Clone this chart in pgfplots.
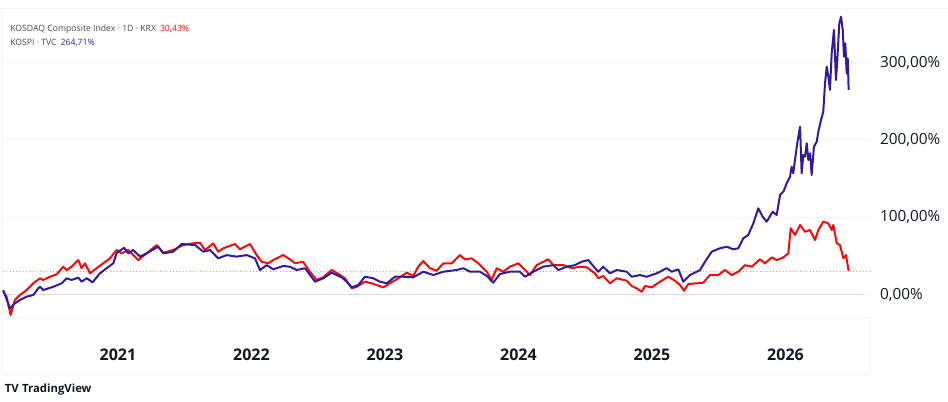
\documentclass[border=0pt]{standalone}
\usepackage{pgfplots}
\pgfplotsset{compat=1.18}
\usepackage{pgfplotstable}
\usepackage{fontspec}
\setmainfont{Open Sans}
\definecolor{kred}{RGB}{245,10,10}
\definecolor{kblue}{RGB}{48,28,150}
\definecolor{txt}{RGB}{19,23,34}
\definecolor{legtxt}{RGB}{70,72,80}
\definecolor{gridc}{RGB}{240,242,246}
\definecolor{zeroc}{RGB}{215,217,222}

\pgfplotstableread{
x y
2020.141 3.6
2020.166 -2.8
2020.196 -26.5
2020.228 -7
2020.266 -0.6
2020.316 5.8
2020.366 14.5
2020.416 21
2020.440 18.8
2020.491 23
2020.541 26.1
2020.590 36
2020.616 31.7
2020.653 36
2020.703 44.6
2020.728 34
2020.753 40.4
2020.790 27.4
2020.840 34
2020.890 40.4
2020.940 46.8
2020.990 57.6
2021.028 53.3
2021.077 57.6
2021.152 44.6
2021.215 53.3
2021.290 64
2021.339 54
2021.414 57.6
2021.489 64
2021.552 66
2021.614 67
2021.652 57.6
2021.714 66
2021.751 55.4
2021.789 59.8
2021.876 65.3
2021.914 58.5
2021.989 65.3
2022.039 51
2022.076 42.4
2022.126 40.4
2022.163 44.6
2022.238 51
2022.288 45.5
2022.326 40.4
2022.386 42.4
2022.438 29.5
2022.488 18.8
2022.536 22.2
2022.601 31.7
2022.663 25.2
2022.700 21
2022.751 8
2022.788 10
2022.850 16.6
2022.900 14.5
2022.987 9.3
2023.037 14.5
2023.100 21
2023.163 28.2
2023.212 24
2023.249 36
2023.287 43.3
2023.337 34
2023.387 30.8
2023.437 40.4
2023.500 40.4
2023.562 51
2023.599 45.5
2023.649 46.8
2023.699 40.4
2023.762 29.5
2023.799 18.8
2023.837 34
2023.886 29.5
2023.936 36
2023.999 40.4
2024.036 34
2024.086 25.2
2024.136 38
2024.223 45.5
2024.261 38
2024.336 38
2024.399 34
2024.461 36
2024.511 35.2
2024.573 27.4
2024.598 21
2024.635 24
2024.685 14.5
2024.736 21
2024.810 17.9
2024.848 11
2024.885 8
2024.923 3.6
2024.948 11
2024.998 9.3
2025.060 16.6
2025.122 23
2025.172 17.9
2025.210 12.3
2025.240 4.9
2025.272 13.6
2025.335 14.5
2025.384 15.3
2025.434 25.2
2025.497 25.2
2025.547 31.7
2025.597 25.2
2025.646 29.5
2025.697 38
2025.747 36
2025.809 45.5
2025.846 40.4
2025.897 48
2025.934 44.6
2025.984 48
2026.021 53.3
2026.039 85.6
2026.071 77
2026.109 90
2026.146 81.2
2026.184 83.4
2026.221 70.5
2026.246 83.4
2026.283 94.2
2026.321 92
2026.346 83.4
2026.358 90
2026.384 66.2
2026.408 64
2026.433 46.8
2026.453 51
2026.473 30.43
}\kosdaq

\pgfplotstableread{
x y
2020.141 5.8
2020.191 -18
2020.228 -11.4
2020.266 -7
2020.316 -2.8
2020.366 -0.6
2020.403 8
2020.416 10
2020.440 5.8
2020.515 10
2020.578 14.5
2020.616 21
2020.653 18.8
2020.703 21.8
2020.728 16.6
2020.766 21
2020.810 15.8
2020.865 27.4
2020.915 34
2020.965 40.4
2020.990 53.3
2021.045 60.5
2021.077 53.3
2021.115 57.6
2021.165 49
2021.215 53.3
2021.302 62
2021.339 53.3
2021.414 55.4
2021.477 65.3
2021.577 64
2021.639 55.4
2021.689 57.6
2021.751 46.8
2021.814 51
2021.889 49
2021.964 51
2022.026 46.8
2022.064 31.7
2022.114 38
2022.163 32.6
2022.238 36.9
2022.288 36
2022.339 31.7
2022.401 34
2022.476 16.6
2022.538 21
2022.601 28.2
2022.676 22.2
2022.713 16.6
2022.751 9.3
2022.800 12.3
2022.850 23
2022.912 21
2022.963 16.6
2023.013 14.5
2023.075 23
2023.137 23
2023.212 22.2
2023.287 29.5
2023.362 25.2
2023.437 29.5
2023.537 31.7
2023.587 34
2023.637 29.5
2023.712 29.5
2023.762 24
2023.811 15.3
2023.861 26.5
2023.936 29.5
2024.011 29.5
2024.049 23
2024.111 29.5
2024.186 36
2024.261 38
2024.298 31.7
2024.361 36
2024.423 38
2024.473 42.4
2024.523 44.6
2024.560 36.9
2024.598 29.5
2024.635 36
2024.685 27.4
2024.736 31.7
2024.810 29.5
2024.848 23
2024.910 25.2
2024.960 23
2025.035 27.4
2025.110 34
2025.148 29.5
2025.197 32.6
2025.234 16.6
2025.285 25.2
2025.360 31.7
2025.397 42.4
2025.447 55.4
2025.509 59.8
2025.560 61.8
2025.609 58.5
2025.646 59.8
2025.684 72.7
2025.721 77
2025.759 92
2025.796 111.5
2025.829 100.6
2025.859 94.2
2025.904 107.1
2025.934 102.8
2025.959 128.7
2025.984 133
2026.009 143.9
2026.034 152.4
2026.046 165.3
2026.058 156.8
2026.071 174
2026.088 195.6
2026.109 217
2026.121 156.8
2026.133 180.5
2026.146 178.3
2026.159 195.6
2026.171 174
2026.184 182.7
2026.196 154.6
2026.213 191.2
2026.234 197.7
2026.246 210.6
2026.266 225.7
2026.283 236.5
2026.296 273.2
2026.309 294.7
2026.321 281.8
2026.333 264.6
2026.346 312
2026.363 342.2
2026.378 277.5
2026.388 303.4
2026.403 350.8
2026.416 359.4
2026.429 342.2
2026.438 307.6
2026.448 324.9
2026.458 286.2
2026.466 305.6
2026.473 264.71
}\kospi

\begin{document}
\begin{tikzpicture}
\path[use as bounding box,fill=white] (0,0) rectangle (711pt,-300.75pt);
% faint panel borders
\draw[gridc,line width=0.6pt] (0pt,-6pt) -- (711pt,-6pt);
\draw[gridc,line width=0.6pt] (2pt,-6pt) -- (2pt,-281pt);
\draw[gridc,line width=0.6pt] (2pt,-281pt) -- (652pt,-281pt);
\draw[gridc,line width=0.6pt] (652pt,-238.5pt) -- (652pt,-281pt);
\draw[gridc,line width=0.6pt] (2pt,-238.5pt) -- (652pt,-238.5pt);
\begin{axis}[
  at={(2.25pt,-237pt)}, anchor=south west,
  scale only axis, width=650.25pt, height=231pt,
  xmin=2020.139, xmax=2026.633,
  ymin=-27.8, ymax=370.6,
  axis line style={draw=none},
  tick style={draw=none},
  major tick length=0pt,
  xtick={2021,2022,2023,2024,2025,2026},
  xticklabels={2021,2022,2023,2024,2025,2026},
  xticklabel style={font=\fontsize{12}{14}\selectfont\bfseries, text=txt, anchor=center, yshift=-29pt},
  ytick={0,100,200,300},
  yticklabels={{0,00\%},{100,00\%},{200,00\%},{300,00\%}},
  yticklabel pos=right,
  yticklabel style={font=\fontsize{11.5}{13}\selectfont, text=txt, anchor=west, xshift=4pt},
  ymajorgrids,
  grid style={draw=gridc, line width=0.6pt},
  /pgf/number format/assume math mode=true,
  clip=false,
]
\addplot[draw=zeroc, line width=0.9pt, forget plot] coordinates {(2020.139,0) (2026.58,0)};
\addplot[draw=kred!45, dotted, line width=0.5pt, forget plot] coordinates {(2020.139,30.43) (2026.633,30.43)};
\addplot[kred, line width=1.5pt, line join=round, no markers] table[x=x,y=y] {\kosdaq};
\addplot[kblue, line width=1.5pt, line join=round, no markers] table[x=x,y=y] {\kospi};
\end{axis}
% legend
\node[anchor=west, inner sep=0pt, font=\fontsize{6.5}{8}\selectfont, text=legtxt] at (7.5pt,-21.8pt) {KOSDAQ Composite Index · 1D · KRX\hspace{3pt}\textcolor{kred}{30,43\%}};
\node[anchor=west, inner sep=0pt, font=\fontsize{6.5}{8}\selectfont, text=legtxt] at (7.5pt,-32.3pt) {KOSPI · TVC\hspace{3pt}\textcolor{kblue}{264,71\%}};
% TradingView mark
\node[anchor=west, inner sep=0pt, font=\fontsize{8.5}{10}\selectfont\bfseries, text=txt] at (3.5pt,-292.5pt) {\textbf{TV}\hspace{2.5pt}\fontseries{sb}\selectfont TradingView};
\end{tikzpicture}
\end{document}
